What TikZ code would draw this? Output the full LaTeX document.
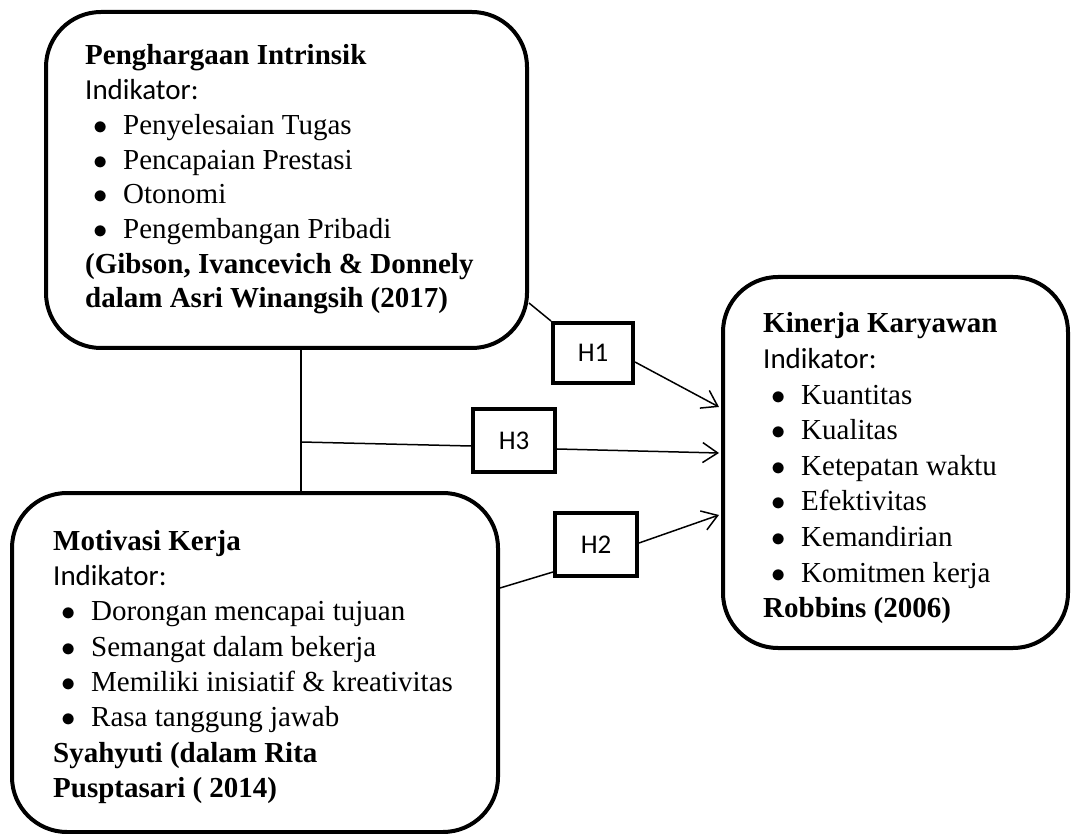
\documentclass[tikz,border=0pt]{standalone}
\usepackage{fontspec}
\setmainfont{Liberation Serif}
\newfontfamily\calibri{Carlito}
\usetikzlibrary{arrows.meta}
\newcommand\myitem{\hspace*{8pt}\makebox[30pt][l]{\scalebox{1.15}{$\bullet$}}}
\begin{document}
\begin{tikzpicture}[x=1pt,y=-1pt,
  bigbox/.style={draw, line width=4pt, rounded corners=55pt, inner sep=0pt},
  hbox/.style={draw, line width=4pt, inner sep=0pt, font=\calibri\fontsize{27}{32}\selectfont},
  conn/.style={line width=1.5pt},
  arr/.style={conn, -{Straight Barb[length=15pt,width=20pt,line width=1.5pt]}},
  txt/.style={anchor=base west, inner sep=0pt}]
\useasboundingbox (0,0) rectangle (1072,834);

% main boxes
\node[bigbox, minimum width=481pt, minimum height=336pt] (pi) at (286.5,180) {};
\node[bigbox, minimum width=345pt, minimum height=371pt] (kk) at (895.5,462.5) {};
\node[bigbox, minimum width=486pt, minimum height=339pt] (mk) at (255,662.5) {};

% hypothesis boxes
\node[hbox, minimum width=80pt, minimum height=60pt] (h1) at (593,353) {H1};
\node[hbox, minimum width=82pt, minimum height=63pt] (h3) at (514,440.5) {H3};
\node[hbox, minimum width=82pt, minimum height=63pt] (h2) at (596,544.5) {H2};

% texts
\node[txt] (tpi) at (85,65) {\fontsize{29}{34.7}\selectfont\begin{tabular}[t]{@{}l@{}}
\textbf{Penghargaan Intrinsik}\\
{\calibri Indikator:}\\
\myitem Penyelesaian Tugas\\
\myitem Pencapaian Prestasi\\
\myitem Otonomi\\
\myitem Pengembangan Pribadi\\
\textbf{(Gibson, Ivancevich \& Donnely}\\
\textbf{dalam Asri Winangsih (2017)}
\end{tabular}};

\node[txt] (tkk) at (763,333) {\fontsize{29}{35.6}\selectfont\begin{tabular}[t]{@{}l@{}}
\textbf{Kinerja Karyawan}\\
{\calibri Indikator:}\\
\myitem Kuantitas\\
\myitem Kualitas\\
\myitem Ketepatan waktu\\
\myitem Efektivitas\\
\myitem Kemandirian\\
\myitem Komitmen kerja\\
\textbf{Robbins (2006)}
\end{tabular}};

\node[txt] (tmk) at (53,550) {\fontsize{29}{35.4}\selectfont\begin{tabular}[t]{@{}l@{}}
\textbf{Motivasi Kerja}\\
{\calibri Indikator:}\\
\myitem Dorongan mencapai tujuan\\
\myitem Semangat dalam bekerja\\
\myitem Memiliki inisiatif \& kreativitas\\
\myitem Rasa tanggung jawab\\
\textbf{Syahyuti (dalam Rita}\\
\textbf{Pusptasari ( 2014)}
\end{tabular}};

% connectors
\coordinate (j) at (301,442);
\draw[conn] (pi.south -| j) -- (mk.north -| j);
\draw[conn] (j) -- ([yshift=-5.5pt]h3.west);
\draw[arr] ([yshift=-8.5pt]h3.east) -- ([xshift=-2pt,yshift=9.5pt]kk.west);

\draw[conn] ([yshift=-123pt]pi.east) -- (h1.north west);
\draw[arr] ([yshift=-9pt]h1.east) -- ([xshift=-2pt,yshift=55.5pt]kk.west);

\draw[conn] ([yshift=74.5pt]mk.east) -- ([yshift=-27.5pt]h2.west);
\draw[arr] ([yshift=1.5pt]h2.east) -- ([xshift=-2pt,yshift=-52.5pt]kk.west);
\end{tikzpicture}
\end{document}
